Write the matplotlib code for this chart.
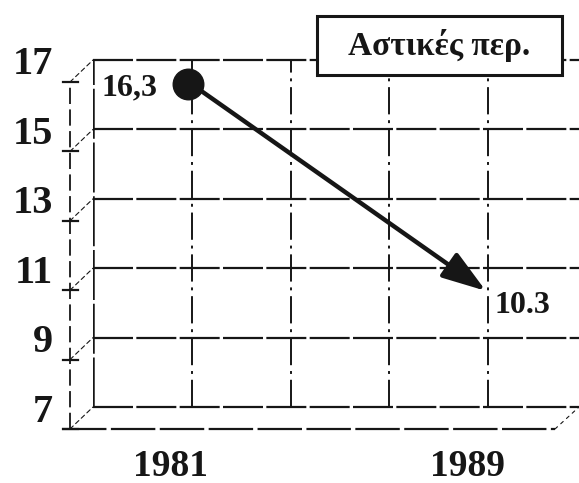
import matplotlib.pyplot as plt
import matplotlib.transforms as mtransforms
from matplotlib.patches import Rectangle

# data
years = ['1981', '1989']
year_pos = [1, 4]
values = [16.3, 10.3]
value_labels = ['16,3', '10.3']
y_ticks = [7, 9, 11, 13, 15, 17]
grid_cols = [0, 1, 2, 3, 4, 5]
legend_text = 'Αστικές περ.'

plt.rcParams['font.family'] = ['Liberation Serif', 'DejaVu Serif']
ink = '#161616'

fig = plt.figure(figsize=(5.79, 4.83), dpi=100)
ax = fig.add_axes([93 / 579, 76 / 483, 486 / 579, 347 / 483])
ax.set_xlim(0, 4.92)
ax.set_ylim(7, 17)
ax.axis('off')

# front plane = back plane pushed down-left (fake depth)
front = ax.transData + mtransforms.ScaledTranslation(-0.23, -0.22, fig.dpi_scale_trans)

# back panel grid
for y in y_ticks:
    ax.plot([0, 5], [y, y], color=ink, lw=1.6, dashes=(18, 1.5), clip_on=False)
for x in grid_cols:
    ax.plot([x, x], [7, 17], color=ink, lw=1.4 if x else 1.8,
            dashes=(14, 3, 1.5, 3) if x else (20, 1.5), clip_on=True)

# floor front edge and front value axis
ax.plot([-0.08, 4.91], [7, 7], color=ink, lw=1.6, dashes=(20, 2),
        transform=front, clip_on=False)
ax.plot([0, 0], [7, 17], color=ink, lw=1.3, dashes=(9, 3),
        transform=front, clip_on=False)
for y in y_ticks:
    ax.plot([-0.07, 0.08], [y, y], color=ink, lw=1.6, transform=front, clip_on=False)
    ax.annotate('', xy=(0, y), xycoords='data', xytext=(0, y), textcoords=front,
                arrowprops=dict(arrowstyle='-', color=ink, lw=0.8, linestyle=(0, (4, 3)),
                                shrinkA=0, shrinkB=0))
ax.annotate('', xy=(4.92, 7), xycoords='data', xytext=(4.91, 7), textcoords=front,
            arrowprops=dict(arrowstyle='-', color=ink, lw=0.8, linestyle=(0, (3, 4)),
                            shrinkA=0, shrinkB=0))

# value axis labels and category labels
lbl = ax.transData + mtransforms.ScaledTranslation(-0.40, -0.05, fig.dpi_scale_trans)
for y in y_ticks:
    ax.text(0, y, str(y), transform=lbl, ha='right', va='center',
            fontsize=29, fontweight='bold', color=ink)
cat = ax.transData + mtransforms.ScaledTranslation(-0.21, -0.60, fig.dpi_scale_trans)
for x, name in zip(year_pos, years):
    ax.text(x, 7, name, transform=cat, ha='center', va='center',
            fontsize=27, fontweight='bold', color=ink)

# the series: dot at the start, arrow to the end
ax.annotate('', xy=(year_pos[1], values[1]), xytext=(year_pos[0], values[0]),
            arrowprops=dict(arrowstyle='-|>,head_length=0.9,head_width=0.3',
                            mutation_scale=30, color=ink, lw=3.2,
                            shrinkA=0, shrinkB=2))
ax.plot(year_pos[0] - 0.04, values[0], 'o', ms=22, color=ink, zorder=5)

ax.annotate(value_labels[0], (year_pos[0], values[0]), xytext=(-34, -4),
            textcoords='offset pixels', ha='right', va='center',
            fontsize=23, fontweight='bold', color=ink)
ax.annotate(value_labels[1], (year_pos[1], values[1]), xytext=(6, -13),
            textcoords='offset pixels', ha='left', va='center',
            fontsize=23, fontweight='bold', color=ink)

# legend box on the top edge
ax.add_patch(Rectangle((0.461, 0.957), 0.504, 0.17, transform=ax.transAxes,
                       facecolor='white', edgecolor=ink, lw=2.2, clip_on=False, zorder=6))
ax.text(0.713, 1.043, legend_text, transform=ax.transAxes, ha='center', va='center',
        fontsize=24, fontweight='bold', color=ink, zorder=7)

fig.savefig('out.png', dpi=100)
